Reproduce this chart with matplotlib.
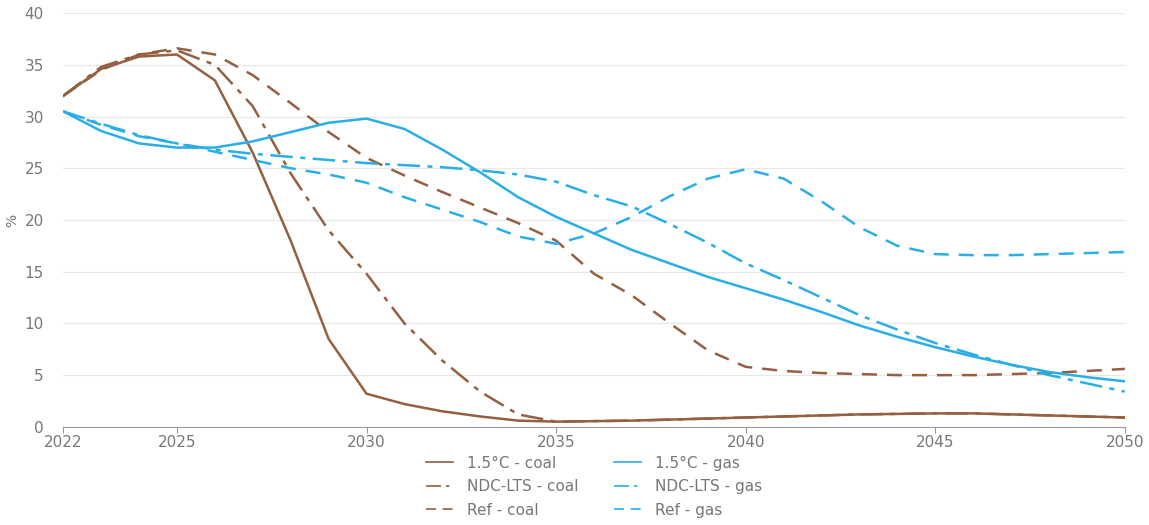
import matplotlib
matplotlib.use("Agg")
from matplotlib import pyplot as plt

years = list(range(2022, 2051))

# share of generation, %
coal_15 = [32.0, 34.6, 35.8, 36.0, 33.5, 26.5, 18.0, 8.5, 3.2, 2.2, 1.5, 1.0, 0.6, 0.5, 0.55,
           0.6, 0.7, 0.8, 0.9, 1.0, 1.1, 1.2, 1.25, 1.3, 1.3, 1.2, 1.1, 1.0, 0.9]
coal_ndc = [32.0, 34.8, 36.0, 36.4, 35.0, 31.0, 24.5, 19.0, 14.8, 10.0, 6.4, 3.4, 1.2, 0.5, 0.55,
            0.6, 0.7, 0.8, 0.9, 1.0, 1.1, 1.2, 1.25, 1.3, 1.3, 1.2, 1.1, 1.0, 0.9]
coal_ref = [32.0, 34.5, 36.0, 36.6, 36.0, 34.0, 31.3, 28.5, 26.0, 24.3, 22.7, 21.2, 19.7, 18.0, 14.8,
            12.7, 10.0, 7.4, 5.8, 5.4, 5.2, 5.1, 5.0, 5.0, 5.0, 5.1, 5.2, 5.4, 5.6]
gas_15 = [30.5, 28.6, 27.4, 27.0, 27.0, 27.6, 28.5, 29.4, 29.8, 28.8, 26.8, 24.6, 22.2, 20.3, 18.7,
          17.1, 15.8, 14.5, 13.4, 12.3, 11.1, 9.8, 8.7, 7.7, 6.8, 6.0, 5.3, 4.8, 4.4]
gas_ndc = [30.5, 29.3, 28.2, 27.4, 26.8, 26.4, 26.1, 25.8, 25.5, 25.3, 25.1, 24.8, 24.4, 23.7, 22.4,
           21.3, 19.6, 17.8, 15.8, 14.2, 12.5, 10.8, 9.4, 8.1, 7.0, 6.0, 5.0, 4.2, 3.4]
gas_ref = [30.5, 29.2, 28.1, 27.4, 26.6, 25.8, 25.0, 24.4, 23.6, 22.2, 21.0, 19.8, 18.4, 17.7, 18.7,
           20.3, 22.3, 24.0, 24.9, 24.0, 21.8, 19.3, 17.5, 16.7, 16.6, 16.6, 16.7, 16.8, 16.9]

xticks = [2022, 2025, 2030, 2035, 2040, 2045, 2050]

coal_c = "#94603f"
gas_c = "#2aaee6"
dashdot = (0, (9, 3, 2, 3))
dashed = (0, (6, 4))

fig = plt.figure(figsize=(11.49, 5.25), dpi=100)
ax = fig.add_axes([0.055, 0.187, 0.924, 0.788])

ax.plot(years, coal_15, color=coal_c, lw=1.8, label="1.5°C - coal")
ax.plot(years, coal_ndc, color=coal_c, lw=1.8, ls=dashdot, label="NDC-LTS - coal")
ax.plot(years, coal_ref, color=coal_c, lw=1.8, ls=dashed, label="Ref - coal")
ax.plot(years, gas_15, color=gas_c, lw=1.8, label="1.5°C - gas")
ax.plot(years, gas_ndc, color=gas_c, lw=1.8, ls=dashdot, label="NDC-LTS - gas")
ax.plot(years, gas_ref, color=gas_c, lw=1.8, ls=dashed, label="Ref - gas")

ax.set_xlim(2022, 2050)
ax.set_ylim(0, 40)
ax.set_xticks(xticks)
ax.set_yticks(range(0, 41, 5))
ax.grid(axis="y", color="#e8e8e8", lw=0.9)
ax.set_axisbelow(True)
for s in ["top", "right", "left"]:
    ax.spines[s].set_visible(False)
ax.spines["bottom"].set_color("#999999")
ax.tick_params(axis="y", length=0, pad=14, labelsize=11, labelcolor="#777777")
ax.tick_params(axis="x", length=4, color="#999999", labelsize=11, labelcolor="#777777", pad=2)
ax.set_ylabel("%", color="#777777", fontsize=10, labelpad=4)

leg = fig.legend(loc="upper center", bbox_to_anchor=(0.517, 0.158), ncol=2, frameon=False,
                 fontsize=11, labelcolor="#777777", handlelength=1.8, handletextpad=0.9,
                 columnspacing=2.3, labelspacing=0.55)
for h in leg.legend_handles:
    h.set_linewidth(1.2)

plt.savefig("out.png", dpi=100)
